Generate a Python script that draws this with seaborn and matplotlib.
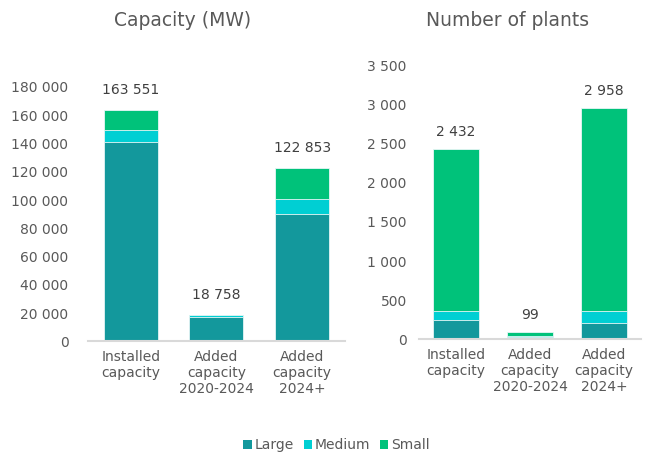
import matplotlib
matplotlib.use("Agg")
import matplotlib.pyplot as plt
from matplotlib.ticker import FuncFormatter, MultipleLocator
from matplotlib.patches import Patch
import numpy as np
import pandas as pd
import seaborn as sns

# Categories and stacked segments
categories = ["Installed\ncapacity", "Added\ncapacity\n2020-2024", "Added\ncapacity\n2024+"]

cap_large = [141250, 17000, 90200]
cap_medium = [8050, 1600, 10400]
cap_small = [14251, 158, 22253]
cap_totals = [163551, 18758, 122853]

num_large = [250, 30, 212]
num_medium = [115, 8, 150]
num_small = [2067, 61, 2596]
num_totals = [2432, 99, 2958]

segments = ["Large", "Medium", "Small"]
colors = {"Large": "#13989C", "Medium": "#00CFD3", "Small": "#00C27A"}

sns.set_theme(style="white")
plt.rcParams["font.family"] = ["DejaVu Sans"]

TEXT = "#595959"
LABEL = "#404040"


def space_thousands(v, pos=None):
    return f"{int(round(v)):,}".replace(",", " ")


def stacked(ax, large, medium, small, totals, ymax, step, pad, label_gap):
    df = pd.DataFrame({"cat": categories, "Large": large, "Medium": medium, "Small": small})
    # Draw cumulative heights from the top segment down so each overlaps the next
    df["c_small"] = df["Large"] + df["Medium"] + df["Small"]
    df["c_medium"] = df["Large"] + df["Medium"]
    df["c_large"] = df["Large"]
    for col, seg in [("c_small", "Small"), ("c_medium", "Medium"), ("c_large", "Large")]:
        sns.barplot(data=df, x="cat", y=col, color=colors[seg], width=0.63,
                    edgecolor="#E8F6F6", linewidth=0.6, saturation=1, ax=ax)
    for i, t in enumerate(totals):
        ax.text(i, t + ymax * label_gap, space_thousands(t), ha="center", va="bottom",
                fontsize=10, color=LABEL)
    ax.set_ylim(0, ymax)
    ax.set_xlim(-0.5, 2.5)
    ax.yaxis.set_major_locator(MultipleLocator(step))
    ax.yaxis.set_major_formatter(FuncFormatter(space_thousands))
    ax.set_xlabel("")
    ax.set_ylabel("")
    for s in ["left", "right", "top"]:
        ax.spines[s].set_visible(False)
    ax.spines["bottom"].set_color("#D9D9D9")
    ax.spines["bottom"].set_linewidth(1.5)
    ax.tick_params(axis="y", length=0, pad=pad, labelsize=10, labelcolor=TEXT)
    ax.tick_params(axis="x", length=0, pad=6, labelsize=10, labelcolor=TEXT)
    for lbl in ax.get_xticklabels():
        lbl.set_linespacing(1.2)


fig = plt.figure(figsize=(6.46, 4.55), dpi=100)
ax1 = fig.add_axes([0.136, 0.2495, 0.398, 0.5595])
ax2 = fig.add_axes([0.649, 0.254, 0.343, 0.603])

stacked(ax1, cap_large, cap_medium, cap_small, cap_totals, 180000, 20000, 14, 0.05)
stacked(ax2, num_large, num_medium, num_small, num_totals, 3500, 500, 9, 0.035)

fig.text(0.282, 0.955, "Capacity (MW)", ha="center", va="center", fontsize=13.5, color=TEXT)
fig.text(0.786, 0.955, "Number of plants", ha="center", va="center", fontsize=13.5, color=TEXT)

handles = [Patch(facecolor=colors[s], edgecolor="none", label=s) for s in segments]
fig.legend(handles=handles, loc="center", bbox_to_anchor=(0.521, 0.022), ncol=3,
           frameon=False, fontsize=10, handlelength=0.6, handleheight=0.6,
           handletextpad=0.2, columnspacing=0.7, labelcolor=TEXT)

fig.savefig("out.png", dpi=100)
